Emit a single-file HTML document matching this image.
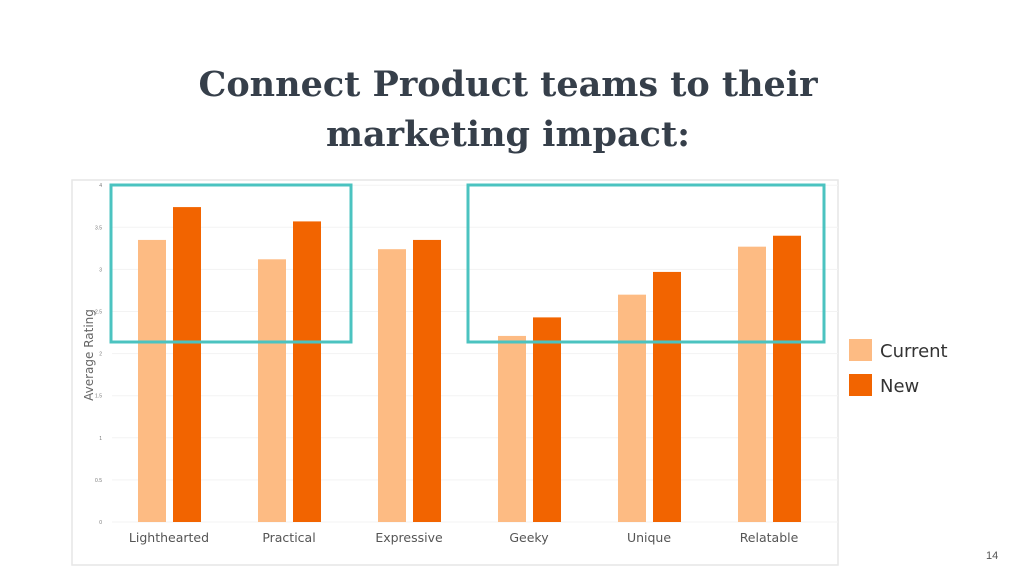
<!DOCTYPE html>
<html><head><meta charset="utf-8"><style>
body{margin:0;width:1024px;height:576px;background:#fff;overflow:hidden;position:relative;font-family:"Liberation Sans",sans-serif}
.title{position:absolute;left:0;width:1016px;top:60px;text-align:center;font-family:"DejaVu Serif","Liberation Serif",serif;font-weight:bold;font-size:35px;line-height:50px;color:#363f4a}
</style></head><body>
<div class="title">Connect Product teams to their<br>marketing impact:</div>
<svg id="c" width="1024" height="576" style="position:absolute;left:0;top:0"></svg>
<div style="position:absolute;left:986px;top:550px;font-size:11px;color:#555">14</div>
<script>
const categories=["Lighthearted","Practical","Expressive","Geeky","Unique","Relatable"];
const currentValues=[3.35,3.12,3.24,2.21,2.70,3.27];
const newValues=[3.74,3.57,3.35,2.43,2.97,3.40];
const yTicks=["0","0.5","1","1.5","2","2.5","3","3.5","4"];
const legendLabels=["Current","New"];
const NS="http://www.w3.org/2000/svg";
const svg=document.getElementById('c');
function mk(t,a,p){const e=document.createElementNS(NS,t);for(const k in a)e.setAttribute(k,a[k]);(p||svg).appendChild(e);return e;}
const y=v=>522-v*84.2;
const gx=i=>169+i*120;
const sans='"DejaVu Sans","Liberation Sans",sans-serif';
let fr=mk('rect',{x:72,y:180,width:766,height:385,fill:'none',stroke:'#e6e6e6','stroke-width':1.5});


yTicks.forEach(t=>{const v=parseFloat(t);
 const l=mk('line',{x1:112,x2:838,y1:y(v),y2:y(v),stroke:'#f3f3f3'});
 
 
 const tx=mk('text',{x:102,y:y(v)+2,'font-size':5,fill:'#777','text-anchor':'end'});tx.textContent=t;
 
 });
const yt=mk('text',{x:93,y:355,'font-size':12,fill:'#666','text-anchor':'middle','font-family':sans,transform:'rotate(-90 93 355)'});yt.textContent='Average Rating';


categories.forEach((c,i)=>{
 const b1=mk('rect',{x:gx(i)-31,y:y(currentValues[i]),width:28,height:y(0)-y(currentValues[i]),fill:'#fdbb83'});
 
 
 const b2=mk('rect',{x:gx(i)+4,y:y(newValues[i]),width:28,height:y(0)-y(newValues[i]),fill:'#f26400'});
 
 
 const t=mk('text',{x:gx(i),y:542,'font-size':12.5,fill:'#555','text-anchor':'middle','font-family':sans});t.textContent=c;
 
 
});
const h1=mk('rect',{x:111,y:185,width:240,height:157,fill:'none',stroke:'#4bc3c0','stroke-width':3});


const h2=mk('rect',{x:468,y:185,width:356,height:157,fill:'none',stroke:'#4bc3c0','stroke-width':3});


const lc=['#fdbb83','#f26400'];
legendLabels.forEach((l,i)=>{
 const r=mk('rect',{x:849,y:339+i*35,width:23,height:22,fill:lc[i]});
 
 
 const t=mk('text',{x:880,y:357+i*35,'font-size':18,fill:'#333','font-family':sans});t.textContent=l;
 
 
});
</script>
</body></html>
